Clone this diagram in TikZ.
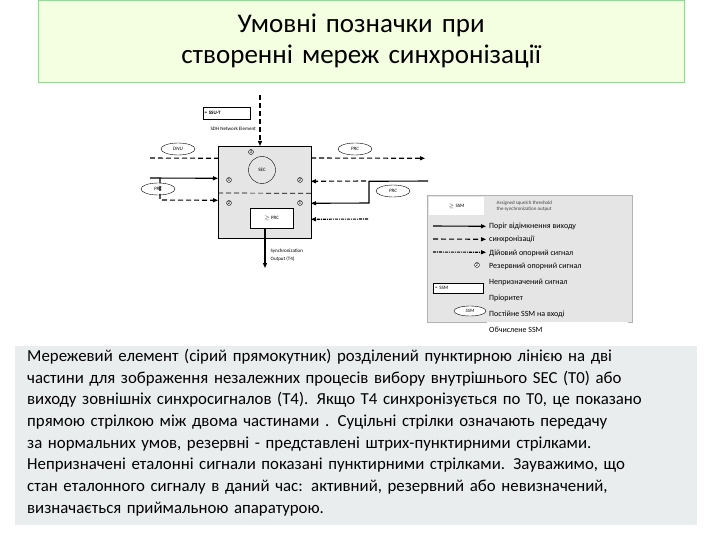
\documentclass[tikz,border=0pt]{standalone}
\usepackage{fontspec}
\setmainfont{Carlito}
\usetikzlibrary{arrows.meta,shapes.geometric}
\begin{document}
\begin{tikzpicture}[x=1pt,y=1pt,
 lbl/.style={font=\fontsize{5}{6}\selectfont,inner sep=0.5pt},
 num/.style={circle,draw,inner sep=0.3pt,font=\fontsize{5}{5}\selectfont},
 ell/.style={ellipse,draw,minimum width=34,minimum height=12,font=\fontsize{5}{6}\selectfont\itshape,inner sep=0},
 arr/.style={-{Triangle[length=5pt,width=4pt]},line width=1.1pt},
 dsh/.style={dash pattern=on 5pt off 3pt},
 dd/.style={dash pattern=on 3pt off 1pt on 1pt off 1pt},
 lgt/.style={font=\fontsize{8}{9}\selectfont,anchor=west,inner sep=0}]
\useasboundingbox (0,0) rectangle (720,-540);
\fill[white] (0,0) rectangle (720,-540);
\node[draw=green!60!black!40,fill=green!40!yellow!12,minimum width=646,minimum height=82,anchor=north west,text width=600,align=center,font=\fontsize{27}{31}\selectfont] (title) at (38,0) {Умовні позначки при створенні мереж синхронізації};
% main element
\node[draw,fill=gray!20,minimum width=93,minimum height=92,anchor=north west] (ne) at (218,-146) {};
\draw[dsh,line width=0.7pt] (218,-193) -- (311,-193.3);
\node[draw,minimum width=47,minimum height=12,anchor=north west,text width=44,font=\fontsize{5}{6}\selectfont\bfseries,inner sep=1pt] (ssu) at (203,-107) {= SSU-T};
\node[lbl,anchor=west] (sdh) at (210,-129) {SDH Network Element};
\coordinate (topin) at (260,-95);
\draw[arr,dsh,line width=1.6pt] (topin) -- (260,-146);
\node[circle,draw,minimum size=27,fill=gray!20,lbl] (sec) at (262,-170) {SEC};
\node[num] (n3) at (251,-152) {3};
\node[num] (n1a) at (229,-180) {1};
\node[num] (n2a) at (300,-180) {2};
\node[num] (n2b) at (229,-203) {2};
\node[num] (n1b) at (300,-203) {1};
\node[draw,fill=white,minimum width=43,minimum height=20,anchor=north west,lbl] (prcbox) at (250,-208) {$\geq$ PRC};
\coordinate (out) at (265,-268);
\draw[arr] (prcbox.south -| out) -- (out);
\node[lbl,anchor=west,align=left] (syn) at (270,-255) {Synchronization\\[2pt]Output (T4)};
% left
\node[ell] (dnu) at (178,-149) {DNU};
\node[ell] (prcl) at (158,-189) {PRC};
\coordinate (l1) at (150,-158); \coordinate (l2) at (150,-178);
\draw[dsh,line width=1.1pt] (l1) -- (218,-158.3);
\draw[arr] (l2) -- (218,-178.3);
\coordinate (lv) at (160,-178);
\draw[arr,dsh] (lv) -- (160,-200) -- (218,-200.3);
% right
\node[ell] (prcr) at (355,-149) {PRC};
\coordinate (r1) at (425,-158.3);
\draw[arr,dsh] (311,-158) -- (r1);
\node[ell] (prcr2) at (393,-191) {PRC};
\coordinate (r2) at (428,-181);
\draw[arr] (r2) -- (369,-181.3) -- (369,-203) -- (311,-203.3);
\draw[arr,dsh] (366,-181) -- (311,-181.3);
\coordinate (r3) at (368,-219);
\draw[arr,dd] (r3) -- (311,-219.3);
% legend
\node[fill=gray!20,draw=gray!60,minimum width=205,minimum height=127,anchor=north west] (leg) at (427,-195) {};
\node[fill=white,minimum width=55,minimum height=18,anchor=north west,lbl] (lssm) at (429,-197) {$\geq$ SSM};
\node[lbl,anchor=west,align=left,text=gray!50!black] (assig) at (496,-206) {Assigned squelch threshold\\the synchronization output};
\draw[arr] (433,-226) -- (486,-226.3);
\draw[arr,dsh] (433,-239) -- (486,-239.3);
\draw[arr,dd] (433,-252) -- (486,-252.3);
\node[num,fill=white] (l2n) at (477,-265) {2};
\node[draw,fill=white,minimum width=50,minimum height=10,anchor=north west,text width=46,font=\fontsize{5}{6}\selectfont,inner sep=1pt] (lssm2) at (433,-283) {= SSM};
\node[ell,minimum width=32,minimum height=10,fill=white] (lell) at (470,-311) {SSM};
\fill[white] (487,-322) rectangle (628,-337);
\node[lgt] (t1) at (489,-226) {Поріг відімкнення виходу};
\node[lgt] (t2) at (489,-239) {синхронізації};
\node[lgt] (t3) at (489,-253) {Дійовий опорний сигнал};
\node[lgt] (t4) at (489,-266) {Резервний опорний сигнал};
\node[lgt] (t5) at (489,-282) {Непризначений сигнал};
\node[lgt] (t6) at (489,-298) {Пріоритет};
\node[lgt] (t7) at (489,-314) {Постійне SSM на вході};
\node[lgt] (t8) at (489,-330) {Обчислене SSM};
% text
\node[fill=blue!30!cyan!10!gray!15,draw=white,minimum width=683,minimum height=180,anchor=north west] (tb) at (14,-345) {};
\node[anchor=north west,text width=640,align=left,font=\fontsize{16.8}{21.7}\selectfont,inner sep=0] (txt) at (27,-349) {Мережевий елемент (сірий прямокутник) розділений пунктирною лінією на дві частини для зображення незалежних процесів вибору внутрішнього SEC (T0) або виходу зовнішніх синхросигналов (T4). Якщо T4 синхронізується по T0, це показано прямою стрілкою між двома частинами . Суцільні стрілки означають передачу за нормальних умов, резервні - представлені штрих-пунктирними стрілками. Непризначені еталонні сигнали показані пунктирними стрілками. Зауважимо, що стан еталонного сигналу в даний час: активний, резервний або невизначений, визначається приймальною апаратурою.};
\end{tikzpicture}
\end{document}
